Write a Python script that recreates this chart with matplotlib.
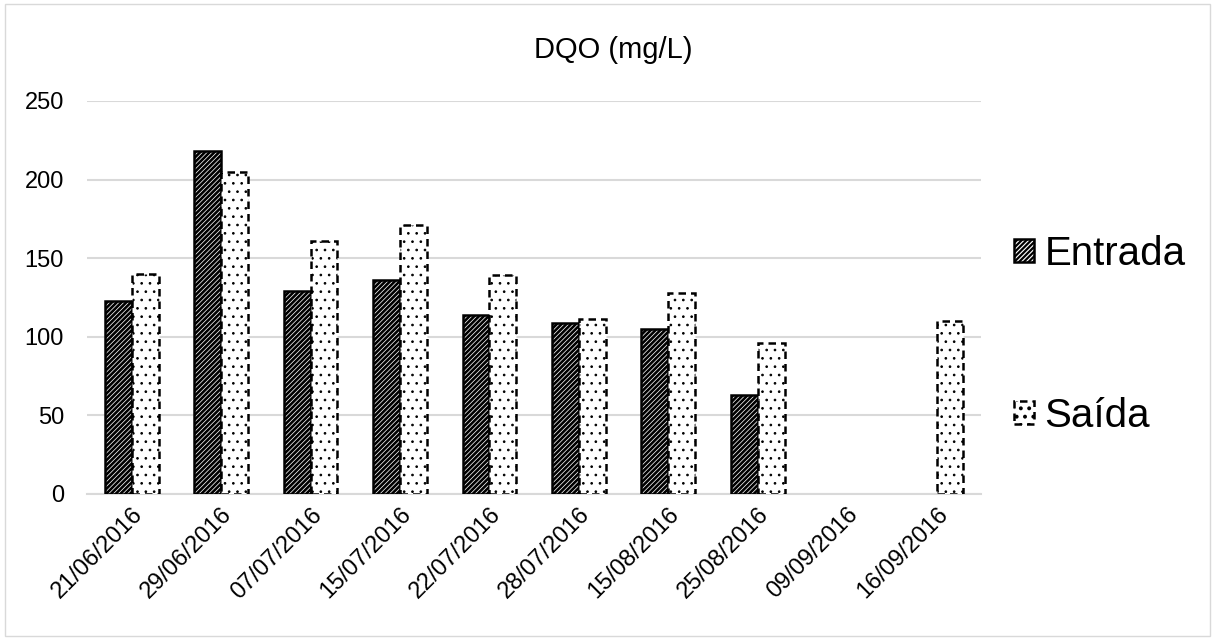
import matplotlib.pyplot as plt
import numpy as np

plt.rcParams['font.family'] = ['Liberation Sans', 'DejaVu Sans']
plt.rcParams['hatch.linewidth'] = 1.6

datas = ['21/06/2016', '29/06/2016', '07/07/2016', '15/07/2016', '22/07/2016',
         '28/07/2016', '15/08/2016', '25/08/2016', '09/09/2016', '16/09/2016']
entrada = [123, 218, 129, 136, 114, 109, 105, 63, np.nan, np.nan]
saida = [140, 205, 161, 171, 139, 111, 128, 96, np.nan, 110]

fig = plt.figure(figsize=(12.15, 6.39), dpi=100)
ax = fig.add_axes([0.0716, 0.227, 0.736, 0.615])

x = np.arange(len(datas))
w = 0.3
bars_e = ax.bar(x - w / 2, entrada, w, color='white', edgecolor='black', hatch='///////',
                linewidth=1.8, label='Entrada', zorder=3)
bars_s = ax.bar(x + w / 2, saida, w, color='white', edgecolor='black', hatch='..',
                linewidth=1.8, linestyle=(0, (3, 2)), label='Saída', zorder=3)
# espessura do hachurado por série (matplotlib >= 3.10)
for bars, lw in [(bars_e, 1.9), (bars_s, 0.7)]:
    for b in bars:
        try:
            b.set_hatch_linewidth(lw)
        except AttributeError:
            pass

ax.set_ylim(0, 250)
ax.set_xlim(-0.5, len(datas) - 0.5)
ax.set_yticks(range(0, 251, 50))
ax.grid(axis='y', color='#d9d9d9', linewidth=1.5, zorder=0)
for s in ['top', 'right', 'left']:
    ax.spines[s].set_visible(False)
ax.spines['bottom'].set_color('#d9d9d9')
ax.spines['bottom'].set_linewidth(1.5)
ax.tick_params(length=0, labelsize=17)
ax.tick_params(axis='y', pad=16.5)
ax.tick_params(axis='x', pad=7)
ax.set_xticks(x)
ax.set_xticklabels(datas, rotation=45, ha='right', rotation_mode='anchor')

fig.text(0.505, 0.922, 'DQO (mg/L)', ha='center', va='center', fontsize=21)

ax.legend(loc='center left', bbox_to_anchor=(1.037, 0.405), frameon=False,
          fontsize=29, handlelength=0.5, handleheight=0.5, handletextpad=0.25,
          labelspacing=3.07, borderaxespad=0, borderpad=0)

fig.patches.append(plt.Rectangle((0.004, 0.004), 0.992, 0.99, transform=fig.transFigure,
                                 fill=False, edgecolor='#d9d9d9', linewidth=1))
fig.savefig('out.png', dpi=100)
